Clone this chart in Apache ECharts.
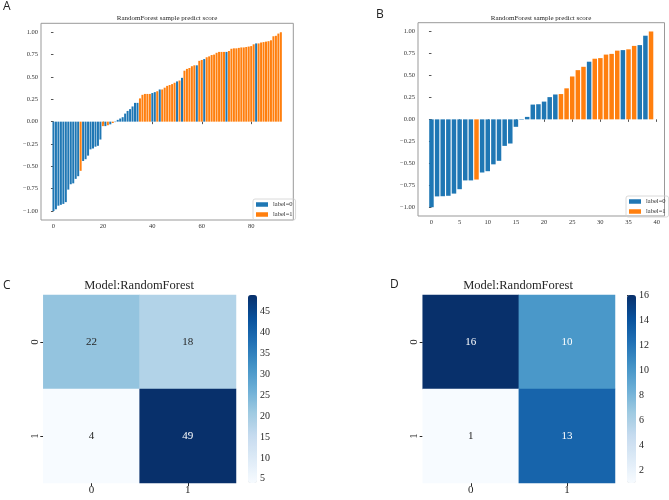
<!DOCTYPE html>
<html>
<head>
<meta charset="utf-8">
<script src="https://cdn.jsdelivr.net/npm/echarts@6/dist/echarts.min.js"></script>
<style>
  html, body { margin: 0; background: #fff; }
  #main { width: 669px; height: 500px; }
</style>
</head>
<body>
<div id="main"></div>
<script>
// panel A: 93 samples, sorted predict score, true label (0 blue / 1 orange)
var scoresA = [
  -1.00, -0.98, -0.94, -0.93, -0.92, -0.90, -0.76, -0.70, -0.69, -0.64, -0.61,
  -0.55,
  -0.44, -0.42, -0.38, -0.31, -0.30, -0.28, -0.27, -0.20,
  -0.05, -0.05, -0.04, -0.03, -0.015, -0.005,
  0.02, 0.035, 0.05, 0.09, 0.12, 0.14, 0.17, 0.21, 0.21,
  0.26, 0.30, 0.31, 0.31, 0.31,
  0.32, 0.33, 0.34, 0.36,
  0.36, 0.38, 0.40, 0.41, 0.42, 0.435,
  0.45, 0.46, 0.49,
  0.57, 0.59, 0.60, 0.62, 0.63,
  0.63, 0.68, 0.69, 0.70,
  0.72, 0.73, 0.745, 0.75, 0.77, 0.78, 0.78, 0.78,
  0.78,
  0.79, 0.815, 0.82, 0.82, 0.825, 0.83, 0.83, 0.835, 0.84, 0.845, 0.865,
  0.875,
  0.875, 0.885, 0.89, 0.895, 0.90, 0.91, 0.955, 0.96, 0.985, 1.00
];
var labelsA = [
  0,0,0,0,0,0,0,0,0,0,0, 1, 0,0,0,0,0,0,0,0, 1,0,1,0,1,0,
  0,0,0,0,0,0,0,0,0, 1,1,1,1,1, 0,0,1,0, 1,1,1,1,1,1, 0,1,0,
  1,1,1,1,1, 0,1,1,0, 1,1,1,1,1,1,1,1, 0, 1,1,1,1,1,1,1,1,1,1,1,
  0, 1,1,1,1,1,1,1,1,1,1
];

// panel B: 40 samples
var scoresB = [
  -1.00, -0.877, -0.875, -0.87, -0.845, -0.795, -0.695, -0.695, -0.685, -0.605,
  -0.59, -0.512, -0.472, -0.302, -0.275, -0.085, -0.005, 0.028, 0.168, 0.172,
  0.202, 0.253, 0.283, 0.288, 0.353, 0.488, 0.56, 0.598, 0.656, 0.69,
  0.697, 0.737, 0.745, 0.782, 0.788, 0.797, 0.836, 0.845, 0.952, 1.00
];
var labelsB = [
  0,0,0,0,0,0,0,0,1,0, 0,0,0,0,0,0,0,0,0,0,
  0,0,0,1,1,1,1,1,0,1, 1,1,1,1,0,1,1,0,0,1
];

// confusion matrices (rows = true, cols = predicted)
var cmC = [[22, 18], [4, 49]];
var cmD = [[16, 10], [1, 13]];
var cmCats = ['0', '1'];

// tick labels
var scoreTicks = [-1, -0.75, -0.5, -0.25, 0, 0.25, 0.5, 0.75, 1];
var xTicksA = [0, 20, 40, 60, 80];
var xTicksB = [0, 5, 10, 15, 20, 25, 30, 35, 40];
var cbTicksC = [5, 10, 15, 20, 25, 30, 35, 40, 45];
var cbTicksD = [2, 4, 6, 8, 10, 12, 14, 16];

var blues = ['#f7fbff', '#deebf7', '#c6dbef', '#9ecae1', '#6baed6',
             '#4292c6', '#2171b5', '#08519c', '#08306b'];
var BLUE = '#1f77b4', ORANGE = '#ff7f0e';
var serif = 'Liberation Serif';

var chart = echarts.init(document.getElementById('main'));

function barSeries(scores, labels, lab, idx, w) {
  var d = [];
  for (var i = 0; i < scores.length; i++) {
    if (labels[i] === lab) d.push([i, scores[i]]);
  }
  return {
    type: 'bar', name: 'label=' + lab, xAxisIndex: idx, yAxisIndex: idx,
    data: d, barWidth: w, barGap: '-100%', silent: true,
    itemStyle: { color: lab === 0 ? BLUE : ORANGE }
  };
}

function cmSeries(cm, idx, min, max) {
  var d = [];
  for (var r = 0; r < cm.length; r++) {
    for (var c = 0; c < cm[r].length; c++) {
      var v = cm[r][c];
      d.push({
        value: [c, r, v],
        label: { color: (v - min) / (max - min) > 0.5 ? '#ffffff' : '#262626' }
      });
    }
  }
  return {
    type: 'heatmap', xAxisIndex: idx, yAxisIndex: idx, data: d, silent: true,
    label: {
      show: true, fontFamily: serif, fontSize: 11,
      formatter: function (p) { return p.value[2]; }
    }
  };
}

function fmtScore(v) {
  return (v < 0 ? '\u2212' : '') + Math.abs(v).toFixed(2);
}

function scoreX(grid, min, max, ticks) {
  return {
    type: 'value', gridIndex: grid, min: min, max: max,
    axisLine: { show: false }, splitLine: { show: false },
    axisTick: { show: true, length: 2.5, customValues: ticks, lineStyle: { color: '#555' } },
    axisLabel: { customValues: ticks, fontFamily: serif, fontSize: 6.5, color: '#333', margin: 3 }
  };
}
function scoreY(grid) {
  return {
    type: 'value', gridIndex: grid, min: -1.1, max: 1.1,
    axisLine: { show: false }, splitLine: { show: false },
    axisTick: { show: true, length: 2.5, customValues: scoreTicks, lineStyle: { color: '#555' } },
    axisLabel: { customValues: scoreTicks, fontFamily: serif, fontSize: 6.5, color: '#333', margin: 3,
                 formatter: fmtScore }
  };
}
function catAxis(grid, isY) {
  return {
    type: 'category', gridIndex: grid, data: cmCats, inverse: !!isY,
    axisLine: { show: false }, splitLine: { show: false },
    axisTick: { show: true, length: 3, alignWithLabel: true, lineStyle: { color: '#262626' } },
    axisLabel: { fontFamily: serif, fontSize: 11, color: '#262626', margin: isY ? 3 : 2,
                 rotate: isY ? 90 : 0 }
  };
}
function cbAxis(grid, min, max, ticks) {
  return {
    type: 'value', gridIndex: grid, min: min, max: max, position: 'right',
    axisLine: { show: false }, splitLine: { show: false },
    axisTick: { show: true, length: 3, customValues: ticks, lineStyle: { color: '#262626' } },
    axisLabel: { customValues: ticks, fontFamily: serif, fontSize: 10, color: '#262626', margin: 3 }
  };
}

function legendAt(left, top) {
  return {
    orient: 'vertical', left: left, top: top, icon: 'rect',
    itemWidth: 12, itemHeight: 4.5, itemGap: 3, padding: [2, 3],
    borderColor: '#d0d0d0', borderWidth: 0.8, borderRadius: 2,
    data: ['label=0', 'label=1'],
    textStyle: { fontFamily: serif, fontSize: 6.5, color: '#333' }
  };
}

function panelTitle(text, x, y, size, family) {
  return {
    text: text, left: x, top: y, padding: 0, textAlign: 'center',
    textStyle: { fontFamily: family, fontSize: size, fontWeight: 'normal', color: '#262626' }
  };
}
function letter(text, x, y) {
  return {
    text: text, left: x, top: y, padding: 0,
    textStyle: { fontFamily: 'Open Sans', fontSize: 12, fontWeight: 'normal', color: '#222' }
  };
}

var option = {
  animation: false,
  backgroundColor: '#fff',
  title: [
    letter('A', 3, 1), letter('B', 376, 9), letter('C', 3, 280), letter('D', 390, 279),
    panelTitle('RandomForest sample predict score', 167, 15, 7, serif),
    panelTitle('RandomForest sample predict score', 541, 15, 7, serif),
    panelTitle('Model:RandomForest', 139, 279, 12.5, serif),
    panelTitle('Model:RandomForest', 518, 279, 12.5, serif)
  ],
  legend: [legendAt(253, 199), legendAt(626, 196)],
  grid: [
    { left: 41, top: 23.3, width: 252.3, height: 196.7, show: true, borderColor: '#999', borderWidth: 1 },
    { left: 418, top: 22.7, width: 246.5, height: 193.3, show: true, borderColor: '#999', borderWidth: 1 },
    { left: 43.3, top: 295, width: 192.7, height: 188 },
    { left: 422.7, top: 295, width: 192.3, height: 188 },
    { left: 248, top: 295, width: 9, height: 188 },
    { left: 627, top: 295, width: 9, height: 188 }
  ],
  xAxis: [
    scoreX(0, -5.04, 97.04, xTicksA),
    scoreX(1, -2.39, 41.39, xTicksB),
    catAxis(2, false),
    catAxis(3, false),
    { type: 'value', gridIndex: 4, show: false },
    { type: 'value', gridIndex: 5, show: false }
  ],
  yAxis: [
    scoreY(0),
    scoreY(1),
    catAxis(2, true),
    catAxis(3, true),
    cbAxis(4, 4, 49, cbTicksC),
    cbAxis(5, 1, 16, cbTicksD)
  ],
  visualMap: [
    { type: 'continuous', seriesIndex: 4, min: 4, max: 49, inRange: { color: blues },
      left: 248, top: 295, itemWidth: 9, itemHeight: 188, padding: 0,
      calculable: false, hoverLink: false },
    { type: 'continuous', seriesIndex: 5, min: 1, max: 16, inRange: { color: blues },
      left: 627, top: 295, itemWidth: 9, itemHeight: 188, padding: 0,
      calculable: false, hoverLink: false }
  ],
  series: [
    barSeries(scoresA, labelsA, 0, 0, 2),
    barSeries(scoresA, labelsA, 1, 0, 2),
    barSeries(scoresB, labelsB, 0, 1, 4.5),
    barSeries(scoresB, labelsB, 1, 1, 4.5),
    cmSeries(cmC, 2, 4, 49),
    cmSeries(cmD, 3, 1, 16)
  ]
};

chart.setOption(option);
window.addEventListener('resize', function () { chart.resize(); });
</script>
</body>
</html>
